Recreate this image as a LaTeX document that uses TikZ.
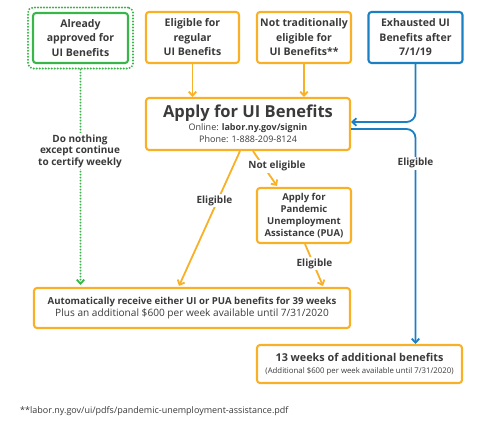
\documentclass[tikz,border=0pt]{standalone}
\usepackage{fontspec}
\setmainfont{Open Sans}
\usetikzlibrary{arrows.meta,calc}
\definecolor{ora}{HTML}{F8B027}
\definecolor{grn}{HTML}{3AB54A}
\definecolor{blu}{HTML}{1B7FC4}
\definecolor{txt}{HTML}{3A3A3A}
\tikzset{
  box/.style={draw=#1, line width=2.1pt, rounded corners=3pt, align=center, text=txt, inner sep=0pt},
  small/.style={font=\fontsize{10.5}{14.5}\selectfont\bfseries},
  lbl/.style={fill=white, text=txt, align=center, inner sep=1.5pt, font=\fontsize{10}{11.5}\selectfont\bfseries},
  conn/.style={draw=#1, line width=1.8pt, -{Straight Barb[length=4pt,width=7.5pt,line width=1.8pt]}},
}
\begin{document}
\begin{tikzpicture}[x=1pt,y=-1pt]
\useasboundingbox (0,0) rectangle (488,421);
% top boxes
\node[box=grn, small, minimum width=95pt, minimum height=50pt] (approved) at (80.5,38) {Already\\approved for\\UI Benefits};
\node[draw=grn, line width=2.2pt, dash pattern=on 0pt off 3pt, line cap=round, rounded corners=5pt, minimum width=105pt, minimum height=61pt, inner sep=0pt] (approvedOuter) at (80.5,38) {};
\node[box=ora, small, minimum width=93pt, minimum height=51pt] (regular) at (192.5,37.5) {Eligible for\\regular\\UI Benefits};
\node[box=ora, small, minimum width=94pt, minimum height=51pt] (nottrad) at (304,37.5) {Not traditionally\\eligible for\\UI Benefits**};
\node[box=blu, small, minimum width=94pt, minimum height=51pt] (exhausted) at (415.5,37.5) {Exhausted UI\\Benefits after\\7/1/19};
% apply box
\node[box=ora, minimum width=204pt, minimum height=52pt] (apply) at (248,124) {{\fontsize{16.5}{18}\selectfont\bfseries Apply for UI Benefits}\\[1pt]
  {\fontsize{9}{11}\selectfont Online: \textbf{labor.ny.gov/signin}}\\
  {\fontsize{9}{11}\selectfont Phone: 1-888-209-8124}};
% PUA
\node[box=ora, minimum width=94pt, minimum height=55pt, font=\fontsize{9.5}{11.8}\selectfont\bfseries] (pua) at (304,215.5) {Apply for\\Pandemic\\Unemployment\\Assistance (PUA)};
% auto box
\node[box=ora, minimum width=316pt, minimum height=40pt] (auto) at (192,308) {{\fontsize{9.6}{13}\selectfont\bfseries Automatically receive either UI or PUA benefits for 39 weeks}\\
  {\fontsize{10.1}{13}\selectfont Plus an additional \$600 per week available until 7/31/2020}};
% 13 weeks
\node[box=ora, minimum width=205pt, minimum height=38pt] (weeks) at (359.5,364) {{\fontsize{10.8}{12}\selectfont\bfseries 13 weeks of additional benefits}\\
  {\fontsize{7.8}{9.5}\selectfont (Additional \$600 per week available until 7/31/2020)}};
% footnote
\node[anchor=west, text=txt, inner sep=0pt, font=\fontsize{9}{10}\selectfont] (foot) at (20,411) {**labor.ny.gov/ui/pdfs/pandemic-unemployment-assistance.pdf};

% connectors
\draw[conn=ora] (regular.south) -- (regular.south |- apply.north);
\draw[conn=ora] (nottrad.south) -- (nottrad.south |- apply.north);
\draw[conn=blu, rounded corners=9pt] (exhausted.south) |- ([yshift=2pt]apply.east);
\draw[conn=blu, rounded corners=9pt] ([yshift=-5pt]apply.east) -| (exhausted.south |- weeks.north);
\node[lbl] (elig3) at (415.5,163) {Eligible};
\draw[draw=grn, line width=2.2pt, dash pattern=on 0pt off 3pt, line cap=round,
  -{Straight Barb[length=4pt,width=7.5pt,line width=1.8pt]}] (approvedOuter.south) -- ([yshift=2pt]approvedOuter.south |- auto.north);
\node[lbl] (donothing) at (80,151) {Do nothing\\except continue\\to certify weekly};
\draw[conn=ora] ([xshift=-8pt]apply.south) -- ([xshift=-13pt,yshift=1pt]auto.north)
  node[lbl, pos=0.37, xshift=-3pt] (elig1) {Eligible};
\draw[conn=ora] ([xshift=5pt]apply.south) -- ([xshift=-27pt,yshift=1pt]pua.north);
\node[lbl] (notelig) at (277,166) {Not eligible};
\draw[conn=ora] ([xshift=1pt]pua.south) -- ([xshift=131pt,yshift=1pt]auto.north)
  node[lbl, pos=0.47, xshift=1pt] (elig2) {Eligible};
\end{tikzpicture}
\end{document}
